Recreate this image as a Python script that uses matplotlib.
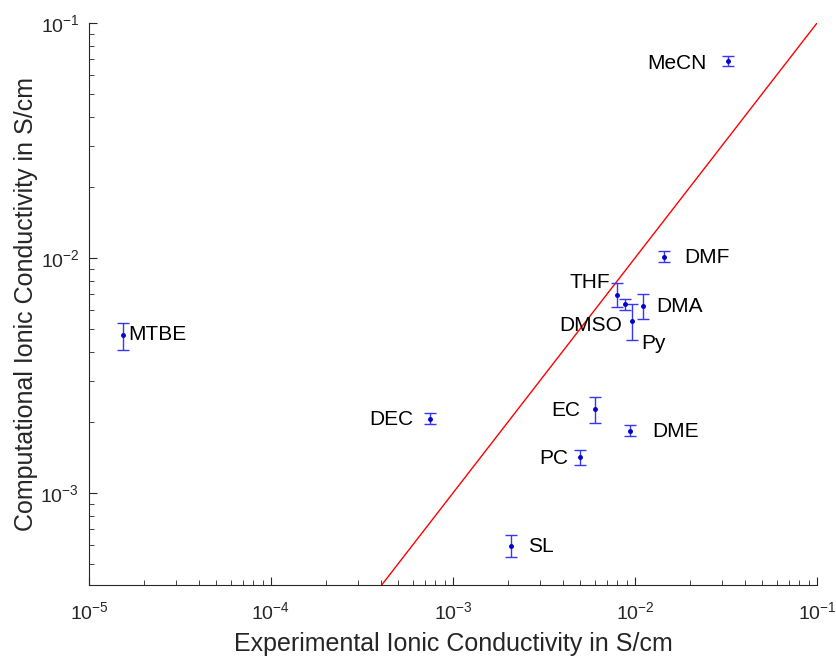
import numpy as np
import matplotlib
matplotlib.use('Agg')
import matplotlib.pyplot as plt
from matplotlib.ticker import LogLocator, NullFormatter

plt.rcParams['font.family'] = ['Liberation Sans', 'DejaVu Sans']
plt.rcParams['mathtext.fontset'] = 'custom'
plt.rcParams['mathtext.rm'] = 'Liberation Sans'
plt.rcParams['mathtext.it'] = 'Liberation Sans'

# solvent data
solvents = ['MeCN', 'DMF', 'THF', 'DMSO', 'Py', 'DMA', 'MTBE',
            'DEC', 'EC', 'DME', 'PC', 'SL']
exp_sigma = [0.0324, 0.0144, 0.00794, 0.00885, 0.00966, 0.01107, 1.54e-5,
             7.48e-4, 0.00603, 0.0094, 0.00497, 0.00209]
comp_sigma = [0.0689, 0.0101, 0.00698, 0.00637, 0.00538, 0.00627, 0.00472,
              0.00207, 0.00228, 0.00184, 0.00142, 0.000597]
comp_upper = [0.0725, 0.0107, 0.0078, 0.0067, 0.00635, 0.00705, 0.0053,
              0.00218, 0.00255, 0.00195, 0.00152, 0.00066]
comp_lower = [0.0655, 0.0096, 0.0062, 0.0060, 0.00448, 0.00548, 0.00406,
              0.00197, 0.00199, 0.00174, 0.00131, 0.000535]

# label offsets in pixels and alignment
label_offsets = {
    'MeCN': (-21, -2, 'right'), 'DMF': (20, -1, 'left'),
    'THF': (-7, 12, 'right'), 'DMSO': (-3, -21, 'right'),
    'Py': (9, -22, 'left'), 'DMA': (13, -1, 'left'),
    'MTBE': (5, 0, 'left'), 'DEC': (-17, -1, 'right'),
    'EC': (-15, -2, 'right'), 'DME': (22, -1, 'left'),
    'PC': (-11, -1, 'right'), 'SL': (17, -1, 'left'),
}

grey = '#262626'

fig = plt.figure(figsize=(8.37, 6.58), dpi=100)
ax = fig.add_axes([0.1063, 0.111, 0.8698, 0.854])

ax.plot([1e-5, 1e-1], [1e-5, 1e-1], color='red', linewidth=1)

x = np.array(exp_sigma)
y = np.array(comp_sigma)
yerr = np.vstack([y - np.array(comp_lower), np.array(comp_upper) - y])
ax.errorbar(x, y, yerr=yerr, fmt='.', color='#1a1aff', markersize=5,
            markerfacecolor='#0000cc', markeredgecolor='#0000cc',
            ecolor='#3535ff', elinewidth=1, capsize=4.3, capthick=1)

for name, xi, yi in zip(solvents, exp_sigma, comp_sigma):
    dx, dy, ha = label_offsets[name]
    ax.annotate(name, (xi, yi), xytext=(dx, dy), textcoords='offset pixels',
                ha=ha, va='center', fontsize=15, color='black')

ax.set_xscale('log')
ax.set_yscale('log')
ax.set_xlim(1e-5, 1e-1)
ax.set_ylim(4.06e-4, 1e-1)

ax.xaxis.set_major_locator(LogLocator(base=10, numticks=10))
ax.yaxis.set_major_locator(LogLocator(base=10, numticks=10))
ax.xaxis.set_minor_locator(LogLocator(base=10, subs=np.arange(2, 10), numticks=20))
ax.yaxis.set_minor_locator(LogLocator(base=10, subs=np.arange(2, 10), numticks=20))
ax.xaxis.set_minor_formatter(NullFormatter())
ax.yaxis.set_minor_formatter(NullFormatter())

ax.spines['top'].set_visible(False)
ax.spines['right'].set_visible(False)
for s in ['left', 'bottom']:
    ax.spines[s].set_color(grey)
    ax.spines[s].set_linewidth(0.8)

ax.tick_params(which='both', direction='in', colors=grey, labelsize=14,
               top=False, right=False)
ax.tick_params(which='major', length=6)
ax.tick_params(axis='x', which='major', pad=12)
ax.tick_params(axis='y', which='major', pad=7)
ax.tick_params(which='minor', length=3.5)

ax.set_xlabel('Experimental Ionic Conductivity in S/cm', fontsize=18,
              color=grey, labelpad=6)
ax.set_ylabel('Computational Ionic Conductivity in S/cm', fontsize=18,
              color=grey, labelpad=2)

fig.savefig('out.png', dpi=100)
